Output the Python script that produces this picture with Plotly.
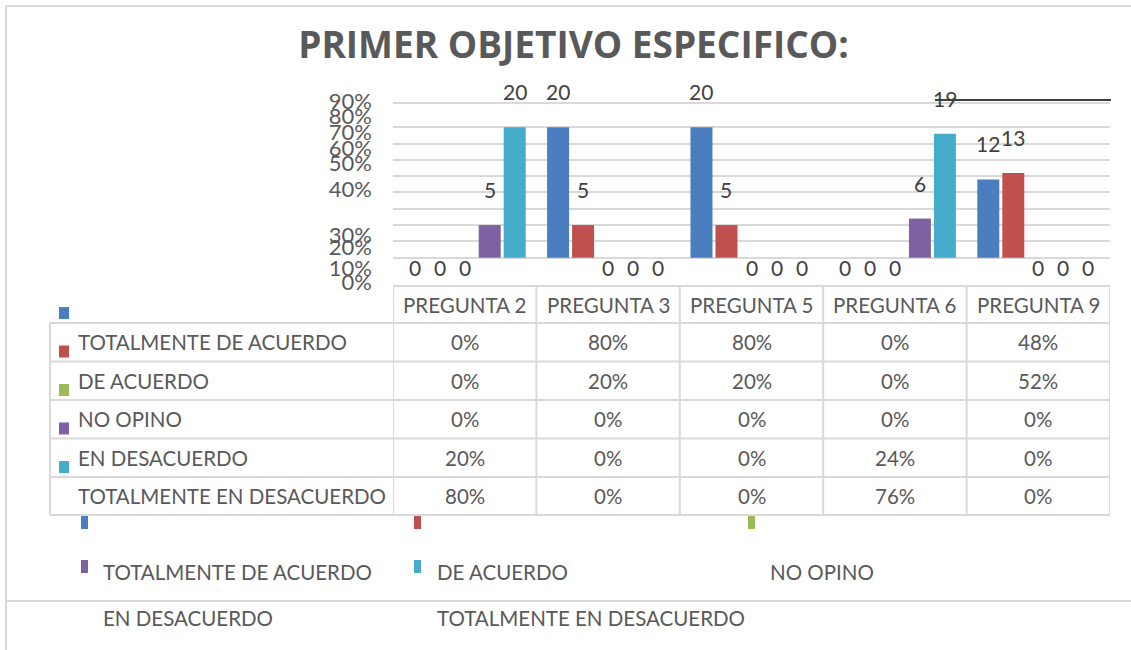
import plotly.graph_objects as go

W, H = 1131, 650

# ---------------- data ----------------
CATEGORIES = ["PREGUNTA 2", "PREGUNTA 3", "PREGUNTA 5", "PREGUNTA 6", "PREGUNTA 9"]
SERIES = ["TOTALMENTE DE ACUERDO", "DE ACUERDO", "NO OPINO", "EN DESACUERDO",
          "TOTALMENTE EN DESACUERDO"]
COLORS = ["#4A7EC0", "#C0504D", "#9BBB59", "#7E61A2", "#45ADC9"]

# counts (bar heights / data labels)
TOTALMENTE_DE_ACUERDO = [0, 20, 20, 0, 12]
DE_ACUERDO = [0, 5, 5, 0, 13]
NO_OPINO = [0, 0, 0, 0, 0]
EN_DESACUERDO = [5, 0, 0, 6, 0]
TOTALMENTE_EN_DESACUERDO = [20, 0, 0, 19, 0]
COUNTS = [TOTALMENTE_DE_ACUERDO, DE_ACUERDO, NO_OPINO, EN_DESACUERDO,
          TOTALMENTE_EN_DESACUERDO]

# percentages shown in the data table
PCT_TOTALMENTE_DE_ACUERDO = [0, 80, 80, 0, 48]
PCT_DE_ACUERDO = [0, 20, 20, 0, 52]
PCT_NO_OPINO = [0, 0, 0, 0, 0]
PCT_EN_DESACUERDO = [20, 0, 0, 24, 0]
PCT_TOTALMENTE_EN_DESACUERDO = [80, 0, 0, 76, 0]
PCTS = [PCT_TOTALMENTE_DE_ACUERDO, PCT_DE_ACUERDO, PCT_NO_OPINO,
        PCT_EN_DESACUERDO, PCT_TOTALMENTE_EN_DESACUERDO]

# the (scrambled) percent axis of the original chart
Y_TICK_TEXT = ["90%", "80%", "70%", "60%", "50%", "40%", "30%", "20%", "10%", "0%"]
Y_TICK_VALS = [23.97, 21.68, 19.24, 16.8, 14.5, 10.53, 3.51, 1.53, -1.68, -3.82]
GRID_VALS = [0, 2.5, 5, 7.5, 10, 12.5, 15, 17.5, 20, 23.77]

# ---------------- layout geometry (pixels) ----------------
PLOT_L, PLOT_R = 393, 1110
PLOT_T, PLOT_B = 95, 286
Y_MIN, Y_MAX = -4.34, 24.95
BARGAP, GROUPGAP = 0.128, 0.12
TEXT = "#595959"
LINE = "#D9D9D9"
FONT = "Lato"
FS = 20.5


def px(x):
    return x / W


def py(y):
    return 1 - y / H


fig = go.Figure()
for name, vals, col in zip(SERIES, COUNTS, COLORS):
    fig.add_trace(go.Bar(x=CATEGORIES, y=vals, name=name, marker_color=col,
                         marker_line_width=0, showlegend=False))
# invisible carrier trace so the percent axis is drawn
fig.add_trace(go.Scatter(x=[CATEGORIES[0]], y=[0], yaxis="y2", mode="markers",
                         marker=dict(opacity=0), hoverinfo="skip", showlegend=False))

shapes = []
ann = []

# data labels
cat_px = (PLOT_R - PLOT_L) / len(CATEGORIES)
slot_px = cat_px * (1 - BARGAP) / len(SERIES)
for j, vals in enumerate(COUNTS):
    for i, v in enumerate(vals):
        ann.append(dict(x=CATEGORIES[i], y=v, xref="x", yref="y",
                        xshift=(j - (len(SERIES) - 1) / 2) * slot_px,
                        yshift=(21 if v > 0 else 5),
                        yanchor=("bottom" if v > 0 else "top"),
                        text=str(v), showarrow=False,
                        font=dict(family=FONT, size=21, color="#404040")))

# stray dark line across the top label
shapes.append(dict(type="line", xref="paper", yref="paper", x0=px(935), x1=px(1111),
                   y0=py(100), y1=py(100), line=dict(color="#404040", width=2)))

# ---------------- data table ----------------
ROWS = [286, 323, 361.5, 400, 438.5, 477, 515]
TABLE_L = 50
shapes.append(dict(type="line", xref="paper", yref="paper", x0=px(PLOT_L), x1=px(PLOT_R),
                   y0=py(ROWS[0]), y1=py(ROWS[0]), line=dict(color=LINE, width=2)))
for r in ROWS[1:]:
    shapes.append(dict(type="line", xref="paper", yref="paper", x0=px(TABLE_L), x1=px(PLOT_R),
                       y0=py(r), y1=py(r), line=dict(color=LINE, width=2)))
shapes.append(dict(type="line", xref="paper", yref="paper", x0=px(TABLE_L), x1=px(TABLE_L),
                   y0=py(ROWS[1]), y1=py(ROWS[-1]), line=dict(color=LINE, width=2)))
for i in range(len(CATEGORIES) + 1):
    shapes.append(dict(type="line", xref="x", yref="paper", x0=i - 0.5, x1=i - 0.5,
                       y0=py(ROWS[0]), y1=py(ROWS[-1]), line=dict(color=LINE, width=2)))

for i, c in enumerate(CATEGORIES):
    ann.append(dict(x=i, y=py((ROWS[0] + ROWS[1]) / 2), xref="x", yref="paper",
                    text=c, showarrow=False, xanchor="center", yanchor="middle",
                    font=dict(family=FONT, size=FS, color=TEXT)))
for k, (name, pct) in enumerate(zip(SERIES, PCTS)):
    yc = (ROWS[k + 1] + ROWS[k + 2]) / 2
    ann.append(dict(x=px(76), y=py(yc), xref="paper", yref="paper", text=name,
                    showarrow=False, xanchor="left", yanchor="middle",
                    font=dict(family=FONT, size=FS, color=TEXT)))
    for i, v in enumerate(pct):
        ann.append(dict(x=i, y=py(yc), xref="x", yref="paper", text=f"{v}%",
                        showarrow=False, xanchor="center", yanchor="middle",
                        font=dict(family=FONT, size=FS, color=TEXT)))
    kb = ROWS[k + 1] - 4
    shapes.append(dict(type="rect", xref="paper", yref="paper", x0=px(59), x1=px(69),
                       y0=py(kb), y1=py(kb - 12), fillcolor=COLORS[k], line_width=0))

# ---------------- legend below ----------------
KEY_X = [81, 414, 748]
TEXT_X = [101, 435, 768]
KEY_ROW = [529, 573]
TEXT_ROW = [572, 618]
for k, name in enumerate(SERIES):
    col, row = k % 3, k // 3
    shapes.append(dict(type="rect", xref="paper", yref="paper",
                       x0=px(KEY_X[col]), x1=px(KEY_X[col] + 7),
                       y0=py(KEY_ROW[row]), y1=py(KEY_ROW[row] - 13),
                       fillcolor=COLORS[k], line_width=0))
    ann.append(dict(x=px(TEXT_X[col]), y=py(TEXT_ROW[row]), xref="paper", yref="paper",
                    text=name, showarrow=False, xanchor="left", yanchor="middle",
                    font=dict(family=FONT, size=FS, color=TEXT)))

# ---------------- outer frame ----------------
for (x0, y0, x1, y1) in [(6, 6, W, 6), (6, 6, 6, H), (6, 601, W, 601)]:
    shapes.append(dict(type="line", xref="paper", yref="paper", x0=px(x0), x1=px(x1),
                       y0=py(y0), y1=py(y1), line=dict(color=LINE, width=2)))

fig.update_layout(
    width=W, height=H, margin=dict(l=0, r=0, t=0, b=0, pad=0, autoexpand=False),
    paper_bgcolor="white", plot_bgcolor="white",
    barmode="group", bargap=BARGAP, bargroupgap=GROUPGAP,
    showlegend=False,
    title=dict(text="<b>PRIMER OBJETIVO ESPECIFICO:</b>", x=px(573.5), y=py(45),
               xanchor="center", yanchor="middle", automargin=False,
               font=dict(family="Open Sans", size=37, color=TEXT)),
    xaxis=dict(domain=[px(PLOT_L), px(PLOT_R)], range=[-0.5, 4.5], showticklabels=False,
               showgrid=False, zeroline=False, showline=False, automargin=False),
    yaxis=dict(domain=[py(PLOT_B), py(PLOT_T)], range=[Y_MIN, Y_MAX],
               tickvals=GRID_VALS, showticklabels=False, showgrid=True,
               gridcolor=LINE, gridwidth=2, zeroline=False, showline=False,
               automargin=False),
    yaxis2=dict(overlaying="y", anchor="x", side="left", range=[Y_MIN, Y_MAX],
                tickvals=Y_TICK_VALS, ticktext=Y_TICK_TEXT, showgrid=False,
                zeroline=False, showline=False, ticks="", ticklabelstandoff=20,
                automargin=False, tickfont=dict(family=FONT, size=22, color=TEXT)),
    shapes=shapes, annotations=ann,
)

fig.write_html("out.html", config={"displayModeBar": False},
               post_script="document.body.style.margin='0';")
